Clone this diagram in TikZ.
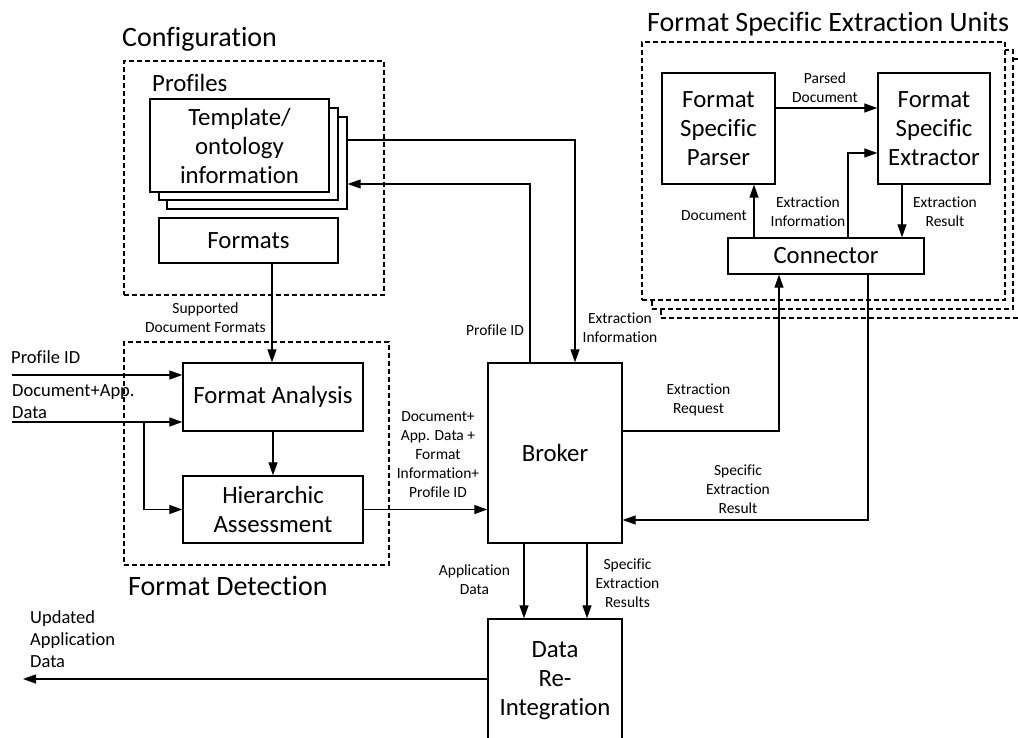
\documentclass[tikz,border=0pt]{standalone}
\usepackage{fontspec}
\setmainfont{Carlito}[Ligatures={NoCommon,NoContextual}, RawFeature={-liga;-clig}]
\usetikzlibrary{arrows.meta}
\begin{document}
\begin{tikzpicture}[x=1pt,y=-1pt,
  box/.style={draw, line width=1.4pt, fill=white, inner sep=0pt, align=center,
    font=\fontsize{24.8}{29}\selectfont},
  dbox/.style={draw, line width=1.2pt, dash pattern=on 5pt off 3pt, fill=white, inner sep=0pt},
  lbl/.style={font=\fontsize{15.5}{19}\selectfont, align=center, inner sep=0pt},
  inlbl/.style={font=\fontsize{18.5}{22}\selectfont, align=left, inner sep=0pt},
  ttl/.style={font=\fontsize{28}{32}\selectfont, inner sep=0pt},
  arr/.style={line width=1.3pt, -{Triangle[length=13pt,width=9pt]}},
]
\useasboundingbox (0,0) rectangle (1018,738);

% ---------- Configuration ----------
\node[ttl, anchor=base west] (cfgtitle) at (122,47) {Configuration};
\node[dbox, minimum width=260pt, minimum height=234pt] (cfg) at (254,178) {};
\node[anchor=base west, inner sep=0pt, font=\fontsize{24.8}{30}\selectfont] (proftitle) at (152,92) {Profiles};
\node[box, minimum width=180pt, minimum height=92pt] (tmpl3) at (257,163) {};
\node[box, minimum width=179pt, minimum height=92pt] (tmpl2) at (248.5,154) {};
\node[box, minimum width=179pt, minimum height=93pt] (tmpl) at (239.5,145.5) {Template/\\ontology\\information};
\node[box, minimum width=179pt, minimum height=45pt] (formats) at (248.5,240.5) {Formats};

% ---------- Format Detection ----------
\node[dbox, minimum width=265pt, minimum height=223pt] (fd) at (256.5,453.5) {};
\node[ttl, anchor=base west] (fdtitle) at (128,595) {Format Detection};
\node[box, minimum width=180pt, minimum height=68pt] (fa) at (273,397) {Format Analysis};
\node[box, minimum width=180pt, minimum height=67pt] (ha) at (273,509.5) {Hierarchic\\Assessment};

% ---------- Broker and re-integration ----------
\node[box, minimum width=134pt, minimum height=180pt] (broker) at (555,453) {Broker};
\node[box, minimum width=134pt, minimum height=124pt] (dri) at (555,681) {Data\\Re-\\Integration};

% ---------- Format specific extraction units ----------
\node[ttl, anchor=base west] (fsetitle) at (647,32) {Format Specific Extraction Units};
\node[dbox, minimum width=361pt, minimum height=259pt] (fse3) at (841.5,188.5) {};
\node[dbox, minimum width=361pt, minimum height=259pt] (fse2) at (832.5,179.5) {};
\node[dbox, minimum width=363pt, minimum height=258pt] (fse) at (823.5,171) {};
\node[box, minimum width=113pt, minimum height=111pt] (parser) at (718.5,128.5) {Format\\Specific\\Parser};
\node[box, minimum width=112pt, minimum height=111pt] (extractor) at (934,128.5) {Format\\Specific\\Extractor};
\node[box, minimum width=196pt, minimum height=36pt] (connector) at (826,256) {Connector};

% ---------- free ends ----------
\coordinate (pin) at (12,375);
\coordinate (din) at (12,422);
\coordinate (split) at (144,422);
\coordinate (dout) at (23,679);

% ---------- connectors ----------
\draw[arr] (pin) -- (fa.west |- pin);
\draw[arr] (din) -- (fa.west |- din);
\draw[arr] (split) |- (ha.west);
\draw[arr] (fa) -- (ha);
\draw[arr] (formats.south -| 272,0) -- (fa.north -| 272,0);
\draw[arr] (ha.east) -- (broker.west |- ha.east);
\draw[arr] (tmpl3.east |- 0,140) -| (broker.north -| 575,0);
\draw[arr] (broker.north -| 530,0) |- (tmpl3.east |- 0,184);
\draw[arr] (broker.east |- 0,431) -| (connector.south -| 779,0);
\draw[arr] (connector.south -| 868,0) |- (broker.east |- 0,520);
\draw[arr] (connector.north -| 754,0) -- (parser.south -| 754,0);
\draw[arr] (connector.north -| 848,0) |- (extractor.west |- 0,153);
\draw[arr] (extractor.south -| 902,0) -- (connector.north -| 902,0);
\draw[arr] (parser.east |- 0,108) -- (extractor.west |- 0,108);
\draw[arr] (broker.south -| 524,0) -- (dri.north -| 524,0);
\draw[arr] (broker.south -| 587,0) -- (dri.north -| 587,0);
\draw[arr] (dri.west |- 0,679) -- (dout);

% ---------- labels ----------
\node[inlbl, anchor=base west] (lpin) at (11,363) {Profile ID};
\node[inlbl, anchor=west] (ldin) at (12,402) {Document+App.\\Data};
\node[inlbl, anchor=west] (ldout) at (30,639) {Updated\\Application\\Data};
\node[lbl] (lsup) at (205.5,318) {Supported\\Document Formats};
\node[lbl] (ldoc) at (438,455) {Document+\\App. Data +\\Format\\Information+\\Profile ID};
\node[lbl] (lpid) at (495,330.5) {Profile ID};
\node[lbl] (lexinf) at (620,327.5) {Extraction\\Information};
\node[lbl] (lreq) at (698.5,400) {Extraction\\Request};
\node[lbl] (lres) at (738,489) {Specific\\Extraction\\Result};
\node[lbl] (lapp) at (474.5,580) {Application\\Data};
\node[lbl] (lress) at (627.5,583) {Specific\\Extraction\\Results};
\node[lbl] (lparsed) at (825,88) {Parsed\\Document};
\node[lbl] (ldocu) at (714,216) {Document};
\node[lbl] (lexinf2) at (808,212) {Extraction\\Information};
\node[lbl] (lexres) at (945,212) {Extraction\\Result};
\end{tikzpicture}
\end{document}
